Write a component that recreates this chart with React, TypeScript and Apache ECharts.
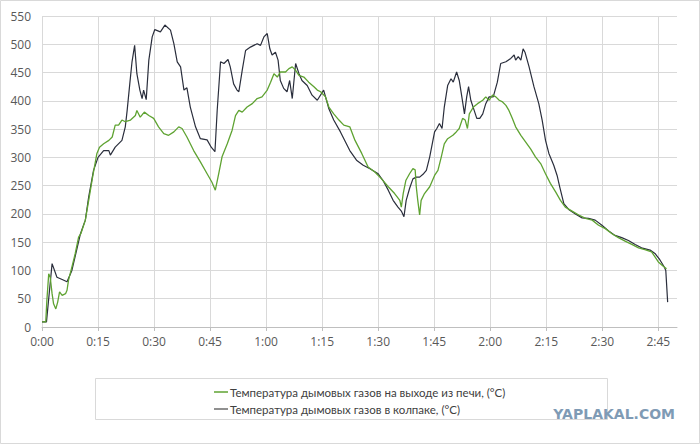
import React, { useEffect, useRef } from "react";
import * as echarts from "echarts";

// Time in minutes from start, temperature in °C
const greenT = [0,1,1.3,1.8,2.2,2.7,3.1,3.7,4.2,4.7,5.4,6.3,6.7,7.1,8,8.9,9.8,10.4,11.6,12.5,13.7,14.7,15.4,16.5,17.9,18.8,19.6,20.5,21.4,22.3,23.7,25,25.4,26.3,27.4,28.6,29.9,31.2,32.6,33.9,35.3,36.6,37.5,38.8,40.6,42.4,44.2,45.5,46.4,47.3,48.2,49.6,50.9,51.8,52.7,53.6,54.9,56.3,57.6,58.9,60.3,61.2,62.1,63,63.8,65.2,66.1,67,67.9,68.8,70.1,71.4,72.8,73.7,74.6,75.9,76.8,78.1,79.5,80.8,82.4,83.8,85.6,87.3,89.1,90.9,92.7,94.4,95.8,96.2,96.7,97.4,98.4,99.3,99.9,100.2,100.6,101.1,101.5,102.4,103.8,105.1,106,106.9,107.7,108.6,110,110.9,111.7,112.6,113.3,113.9,114.4,115.5,116.6,118,118.8,119.7,120.6,121.5,122.4,123.3,124.2,125,125.9,126.8,128.2,129.5,130.8,132.1,133.5,134.8,136.1,137.5,138.8,140.1,141.9,143.7,145.5,147.3,149,150.8,152.6,154.3,156.1,157.9,159.7,161.4,163.2,165,166.4,167.2];
const greenV = [9,9,47,94,88,59,41,32,44,62,56,59,65,83,106,130,159,165,189,224,271,307,318,324,330,336,357,357,366,363,366,374,383,371,380,374,369,354,342,339,345,354,351,336,312,292,271,256,242,271,301,324,348,374,383,380,389,395,404,407,419,433,448,442,451,451,457,460,454,445,442,433,425,419,416,407,389,377,366,357,354,330,307,283,274,262,248,236,224,212,236,259,271,280,278,248,224,198,224,236,248,268,277,301,324,333,339,345,351,369,366,351,377,389,395,401,407,401,410,407,401,398,392,383,369,354,339,327,315,301,289,271,254,239,224,212,205,198,192,189,180,174,165,158,152,146,140,137,133,115,107,103];

const blackT = [0,1.2,2.7,4,5.4,6.7,8,10.3,11.6,12.5,13.8,15,16.5,17.9,18.3,19.6,21.4,22.3,22.8,23.5,24.1,24.8,25.4,26.2,26.8,27.2,27.9,28.6,29.5,30.2,31.7,32.9,34.4,35.3,36.2,37.1,38,38.8,39.7,41.1,42.4,44.2,45.3,46.3,46.9,47.8,48.7,49.8,50.4,51.3,52.2,52.7,53.6,54.5,55.8,57.6,58.5,59.4,60.3,61,61.6,62.5,63.2,63.8,64.7,65.6,66.3,67,67.9,68.8,69.6,71,72.3,73.7,75.4,76.8,78.1,79.9,82.4,84.2,86,87.8,90,91.3,92.7,94,95.3,96.2,96.9,97.5,98.4,99.3,100.2,101.1,102,102.9,103.8,105.1,105.7,106.4,107.1,107.7,108.6,109.5,110.1,111,111.7,112.4,113.1,113.7,114.2,114.8,115.7,116.4,117.2,118,118.8,119.7,120.8,121.9,122.8,124.2,125.5,126.4,126.8,127.5,128.2,128.8,129.3,130.4,131.7,133,133.9,134.8,135.7,137,137.9,138.6,139.7,141,142.8,144.6,146.3,148.1,149.9,151.7,153.4,155.2,157,158.8,160.5,162.8,164.1,165.4,166.6,167,167.5];
const blackV = [9,9,112,88,84,80,100,165,189,230,277,300,312,312,304,318,330,354,383,430,469,498,448,419,404,419,402,472,513,526,522,534,525,501,469,460,419,423,389,354,333,331,318,310,383,469,466,473,460,430,419,416,454,489,495,501,498,513,519,492,481,486,472,436,422,416,436,404,466,448,436,427,410,401,419,386,366,345,312,295,286,280,271,259,242,224,212,205,195,224,245,262,265,265,270,277,301,345,351,360,351,389,427,439,433,451,436,407,377,407,425,401,383,369,369,377,395,407,407,433,466,469,475,481,472,478,472,492,486,460,425,395,366,330,307,286,268,248,218,208,200,193,192,189,180,170,162,158,153,146,140,136,130,119,106,100,44];

const seriesNames = [
  "Температура дымовых газов на выходе из печи, (°C)",
  "Температура дымовых газов в колпаке, (°C)",
];

const fmtTime = (v: number) =>
  v % 15 === 0 ? `${Math.floor(v / 60)}:${String(v % 60).padStart(2, "0")}` : "";

export default function App() {
  const ref = useRef<HTMLDivElement>(null);
  useEffect(() => {
    if (!ref.current) return;
    const chart = echarts.init(ref.current, undefined, { renderer: "svg" });
    const greenData = greenT.map((t, i) => [t, greenV[i]]);
    const blackData = blackT.map((t, i) => [t, blackV[i]]);
    chart.setOption({
      animation: false,
      backgroundColor: "#ffffff",
      grid: { left: 42, right: 23, top: 16, bottom: 117, containLabel: false },
      xAxis: {
        type: "value",
        min: 0,
        max: 170,
        interval: 15,
        axisLine: { show: true, lineStyle: { color: "#bfbfbf", width: 1 } },
        axisTick: { show: true, length: 4, lineStyle: { color: "#bfbfbf" } },
        axisLabel: {
          formatter: fmtTime,
          color: "#595959",
          fontSize: 12,
          fontFamily: "Open Sans",
          margin: 8,
          showMaxLabel: false,
        },
        splitLine: { show: true, showMaxLine: false, lineStyle: { color: "#d9d9d9", width: 1 } },
      },
      yAxis: {
        type: "value",
        min: 0,
        max: 550,
        interval: 50,
        axisLine: { show: false },
        axisTick: { show: false },
        axisLabel: { color: "#595959", fontSize: 12, fontFamily: "Open Sans", margin: 11 },
        splitLine: { show: true, lineStyle: { color: "#d9d9d9", width: 1 } },
      },
      legend: {
        data: seriesNames,
        orient: "vertical",
        left: 209,
        top: 380,
        icon: "rect",
        itemWidth: 14,
        itemHeight: 1.5,
        itemGap: 3,
        textStyle: {
          fontSize: 11.5,
          fontFamily: "'Liberation Sans Narrow', Lato",
          color: "#404040",
          lineHeight: 14,
          padding: [0, 0, 0, -3],
        },
      },
      graphic: [
        {
          type: "rect",
          shape: { x: 95.5, y: 378.5, width: 512, height: 41 },
          style: { fill: "none", stroke: "#d9d9d9", lineWidth: 1 },
          silent: true,
        },
        {
          type: "rect",
          shape: { x: 0.5, y: 0.5, width: 699, height: 443 },
          style: { fill: "none", stroke: "#d9d9d9", lineWidth: 1 },
          silent: true,
        },
        {
          type: "text",
          x: 675,
          y: 414,
          style: {
            text: "YAPLAKAL.COM",
            fill: "#7f9bb5",
            font: "bold 14px 'DejaVu Sans'",
            align: "right",
            verticalAlign: "middle",
          },
          silent: true,
        },
      ],
      series: [
        {
          name: seriesNames[0],
          type: "line",
          data: greenData,
          showSymbol: false,
          symbol: "none",
          lineStyle: { color: "#5fa332", width: 1.3 },
          itemStyle: { color: "#5fa332" },
          z: 3,
        },
        {
          name: seriesNames[1],
          type: "line",
          data: blackData,
          showSymbol: false,
          symbol: "none",
          lineStyle: { color: "#2a2e3c", width: 1.2 },
          itemStyle: { color: "#6b6b6b" },
          z: 2,
        },
      ],
    });
    return () => chart.dispose();
  }, []);
  return (
    <div
      ref={ref}
      style={{ position: "absolute", left: 0, top: 0, width: 700, height: 444, background: "#fff" }}
    />
  );
}
